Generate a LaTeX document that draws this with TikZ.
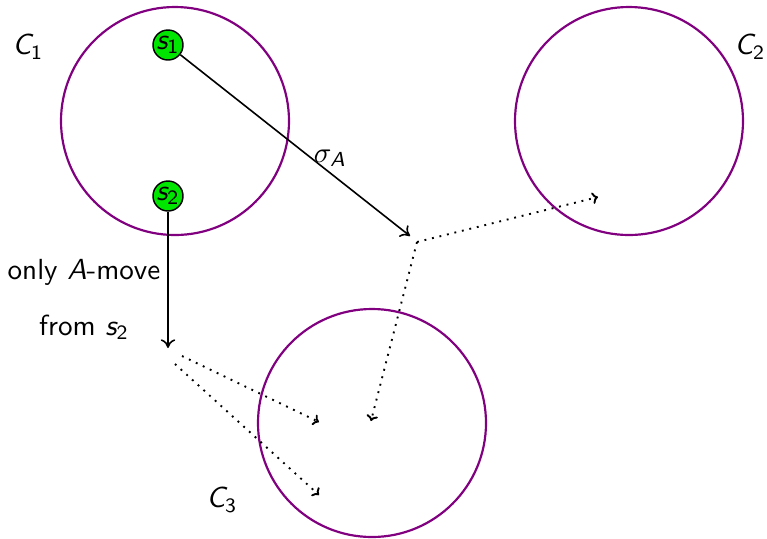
\documentclass[tikz,border=0pt]{standalone}
\usetikzlibrary{arrows.meta}
\DeclareMathAlphabet{\mathsfit}{OT1}{cmss}{m}{sl}
\definecolor{cpurple}{RGB}{128,0,128}
\definecolor{sgreen}{RGB}{0,230,0}
\begin{document}
\begin{tikzpicture}[x=0.344pt,y=-0.344pt,font=\sffamily,
  cls/.style={draw=cpurple,line width=0.75pt,circle,minimum size=228*0.344pt,inner sep=0pt},
  st/.style={draw=black,fill=sgreen,circle,minimum size=30*0.344pt,inner sep=0pt,line width=0.5pt},
  arr/.style={-{To[length=3pt,width=5pt]},line width=0.55pt},
  dot/.style={-{To[length=2pt,width=4pt]},dotted,line width=0.65pt}]
\useasboundingbox (0,0) rectangle (767,538);
\node[cls] (c1) at (175,121) {};
\node[cls] (c2) at (629,121) {};
\node[cls] (c3) at (372,423) {};
\node (l1) at (28,47) {$\mathsfit{C}_{\mathsf{1}}$};
\node (l2) at (750,47) {$\mathsfit{C}_{\mathsf{2}}$};
\node (l3) at (222,500) {$\mathsfit{C}_{\mathsf{3}}$};
\node[st] (s1) at (168,45) {$\mathsfit{s}_{\mathsf{1}}$};
\node[st] (s2) at (168,196) {$\mathsfit{s}_{\mathsf{2}}$};
\coordinate (a) at (410,236);
\coordinate (b) at (417,242);
\coordinate (b2) at (598,197);
\coordinate (b3) at (371,421);
\coordinate (d) at (168,348);
\coordinate (e1) at (182,356);
\coordinate (e2) at (175,364);
\coordinate (f1) at (319,422);
\coordinate (f2) at (319,495);
\draw[arr] (s1) -- (a);
\node (sig) at (330,158) {$\sigma_{\mathsfit{A}}$};
\draw[arr] (s2) -- (d);
\node (t1) at (84,272) {only $\mathsfit{A}$-move};
\node (t2) at (84,327) {from $\mathsfit{s}_{\mathsf{2}}$};
\draw[dot] (b) -- (b2);
\draw[dot] (b) -- (b3);
\draw[dot] (e1) -- (f1);
\draw[dot] (e2) -- (f2);
\end{tikzpicture}
\end{document}
